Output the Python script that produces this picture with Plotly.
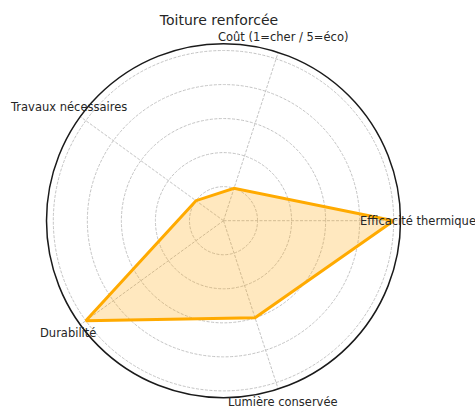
import plotly.graph_objects as go

categories = ["Efficacité thermique", "Coût (1=cher / 5=éco)", "Travaux nécessaires",
              "Durabilité", "Lumière conservée"]
values = [5, 1, 1, 5, 3]
title = "Toiture renforcée"

# close the polygon
r = values + values[:1]
theta = categories + categories[:1]

fig = go.Figure()
fig.add_trace(go.Scatterpolar(
    r=r, theta=theta, mode="lines", fill="toself",
    fillcolor="rgba(255,165,0,0.25)",
    line=dict(color="#FFAA00", width=3),
    showlegend=False, hoverinfo="skip",
))

# axis labels placed like the matplotlib tick labels
label_pos = {
    "Efficacité thermique": (358 / 475, 1 - 221 / 409, "left"),
    "Coût (1=cher / 5=éco)": (282.7 / 475, 1 - 37.3 / 409, "center"),
    "Travaux nécessaires": (68 / 475, 1 - 107 / 409, "center"),
    "Durabilité": (68.3 / 475, 1 - 333 / 409, "center"),
    "Lumière conservée": (283 / 475, 1 - 402 / 409, "center"),
}
for name in categories:
    x, y, anchor = label_pos[name]
    fig.add_annotation(x=x, y=y, xref="paper", yref="paper", text=name,
                       showarrow=False, xanchor=anchor, yanchor="middle",
                       font=dict(size=11.5, color="#262626"))

grid_dash = "3px,1.5px"
fig.update_layout(
    width=475, height=409,
    margin=dict(l=0, r=0, t=0, b=0),
    paper_bgcolor="white",
    font=dict(family="DejaVu Sans"),
    title=dict(text=title, x=219 / 475, y=1 - 20 / 409, xanchor="center", yanchor="middle",
               font=dict(size=14, color="#262626")),
    polar=dict(
        domain=dict(x=[46.5 / 475, 400.5 / 475], y=[1 - 397.7 / 409, 1 - 43.7 / 409]),
        bgcolor="white",
        angularaxis=dict(
            direction="counterclockwise", rotation=0,
            showticklabels=False, ticks="",
            showline=True, linecolor="#1a1a1a", linewidth=1.5,
            gridcolor="#c4c4c4", griddash=grid_dash, gridwidth=0.8,
        ),
        radialaxis=dict(
            range=[0, 5.2], tickvals=[1, 2, 3, 4, 5],
            showticklabels=False, ticks="", showline=False,
            gridcolor="#c4c4c4", griddash=grid_dash, gridwidth=0.8,
        ),
    ),
)

# the page's default body margin would shift the figure
fig.write_html("out.html", config={"displayModeBar": False},
               post_script="document.body.style.margin='0';")
